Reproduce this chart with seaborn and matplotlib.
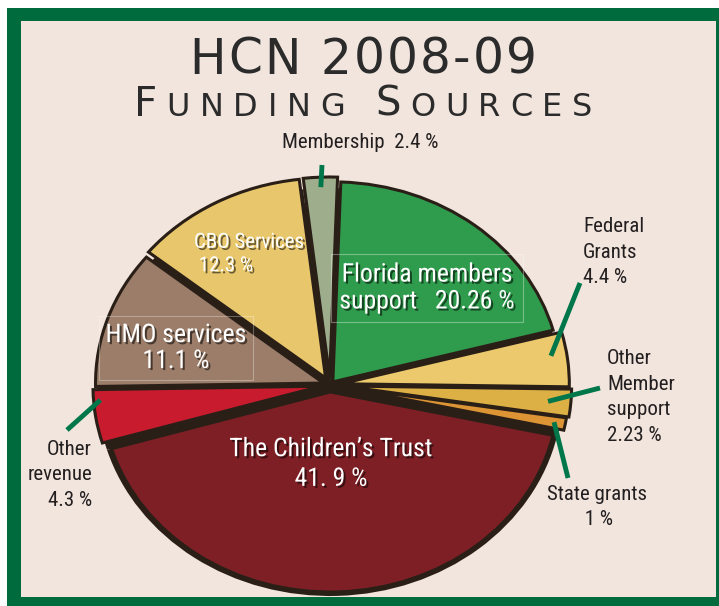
import matplotlib
matplotlib.use("Agg")
import matplotlib.pyplot as plt
import matplotlib.patheffects as pe
from matplotlib import font_manager
from matplotlib.font_manager import FontProperties
from matplotlib.patches import Rectangle
import numpy as np
import seaborn as sns

sns.set_theme(style="white")
plt.rcParams["font.family"] = ["DejaVu Sans"]

# slices in clockwise order starting at 12 o'clock
sources = ["Florida members support", "Federal Grants", "Other Member support", "State grants",
           "The Children's Trust", "Other revenue", "HMO services", "CBO Services", "Membership"]
shares = [20.26, 4.4, 2.23, 1.0, 41.9, 4.3, 11.1, 12.3, 2.4]
slice_colors = ["#2f9c4d", "#ebc96c", "#dcb044", "#dc9434", "#7e1f25",
                "#c91b2e", "#9b7d69", "#e8c66c", "#9eae8c"]
explode = [0.02, 0.05, 0.06, 0.05, 0.035, 0.04, 0.03, 0.04, 0.04]

title_line1 = "HCN 2008-09"
title_line2 = [("F", 29), ("UNDING", 23), (" ", 23), ("S", 29), ("OURCES", 23)]

W, H = 719, 606
GREEN = "#006b3d"
BEIGE = "#f1e5dd"
DARK = "#231f20"
EDGE = "#2a1f17"


def pick_narrow_font():
    # look for an installed condensed sans face, otherwise a narrow-ish regular one
    prefs = ["Liberation Sans Narrow", "Roboto Condensed", "Noto Sans", "Open Sans", "Lato", "Inter",
             "DejaVu Sans"]
    cands = [f for f in font_manager.fontManager.ttflist
             if f.stretch in ("condensed", "semi-condensed", "extra-condensed")
             and f.style == "normal" and f.weight in (400, "normal", "regular")
             and "Mono" not in f.name and "Serif" not in f.name]
    for p in prefs:
        for f in cands:
            if f.name.startswith(p):
                return f.fname, True
    if cands:
        return cands[0].fname, True
    return font_manager.findfont(FontProperties(family="Liberation Sans")), False


label_font, is_narrow = pick_narrow_font()
scale = 1.0 if is_narrow else 0.88


def lf(size):
    return FontProperties(fname=label_font, size=size * scale)


fig = plt.figure(figsize=(W / 100, H / 100), dpi=100)
fig.patch.set_facecolor("white")
fig.patches.append(Rectangle((7 / W, 0), 1, 1 - 8 / H, transform=fig.transFigure,
                             facecolor=GREEN, edgecolor="none", zorder=-3))
fig.patches.append(Rectangle((21 / W, 9 / H), (716 - 21) / W, (597 - 21) / H,
                             transform=fig.transFigure, facecolor=BEIGE, edgecolor="none", zorder=-2))

# pie axes: slightly squashed vertically to mimic the tilted 3D pie
ax = fig.add_axes([45 / W, 1 - 635 / H, 570 / W, 500 / H], zorder=1)
ax.patch.set_alpha(0)
start = 88
# dark body under the slices (shows through the gaps and at the hub)
ax.pie(shares, colors=[EDGE] * len(shares), startangle=start, counterclock=False,
       center=(0, -0.035), radius=1.02, wedgeprops=dict(linewidth=0))
ax.pie(shares, colors=[EDGE] * len(shares), startangle=start, counterclock=False,
       radius=0.9, wedgeprops=dict(linewidth=0))
wedges, _ = ax.pie(shares, explode=explode, colors=slice_colors, startangle=start,
                   counterclock=False, wedgeprops=dict(edgecolor=EDGE, linewidth=2.2))
ax.set_aspect("auto")
ax.set_xlim(-1.25, 1.25)
ax.set_ylim(-1.25, 1.25)
ax.axis("off")

# overlay in pixel coordinates for text and leader lines
ov = fig.add_axes([0, 0, 1, 1], zorder=3)
ov.set_xlim(0, W)
ov.set_ylim(H, 0)
ov.axis("off")
ov.patch.set_alpha(0)

shadow = [pe.withSimplePatchShadow(offset=(1.5, -1.5), shadow_rgbFace="black", alpha=0.55)]

# labels inside the pie
ov.text(427, 288, "Florida members\nsupport   20.26 %", color="white", fontproperties=lf(18.5),
        ha="center", va="center", linespacing=1.15, path_effects=shadow,
        bbox=dict(facecolor="none", edgecolor=(1, 1, 1, 0.35), linewidth=0.8, pad=6))
ov.text(176, 348, "HMO services\n11.1 %", color="white", fontproperties=lf(18.5), ha="center",
        va="center", linespacing=1.1, path_effects=shadow,
        bbox=dict(facecolor="none", edgecolor=(1, 1, 1, 0.3), linewidth=0.8, pad=5))
ov.text(194, 254, "CBO Services\n 12.3 %", color="white", fontproperties=lf(15), ha="left",
        va="center", linespacing=1.3, path_effects=shadow)
ov.text(331, 464, "The Children\u2019s Trust\n41. 9 %", color="white", fontproperties=lf(18.5),
        ha="center", va="center", linespacing=1.3, path_effects=shadow)

# labels outside the pie
ov.text(360, 143, "Membership  2.4 %", color=DARK, fontproperties=lf(15), ha="center", va="center")
ov.text(583, 252, "Federal\nGrants\n4.4 %", color=DARK, fontproperties=lf(15), ha="left",
        va="center", linespacing=1.45)
ov.text(607, 397, "Other\nMember\nsupport\n2.23 %", color=DARK, fontproperties=lf(15), ha="left",
        va="center", linespacing=1.45)
ov.text(597, 507, "State grants\n 1 %", color=DARK, fontproperties=lf(15), ha="center",
        va="center", linespacing=1.45)
ov.text(92, 475, "Other\nrevenue\n4.3 %", color=DARK, fontproperties=lf(15), ha="right",
        va="center", multialignment="right", linespacing=1.45)

# leader lines: slice index -> (label end point, position along slice, radius)
leaders = {8: ((322, 165), 0.5, 0.95), 1: ((580, 283), 0.6, 0.93), 2: ((600, 388), 0.5, 0.9),
           3: ((568, 478), 0.5, 0.95), 5: ((67, 430), 0.2, 0.97)}
to_px = ov.transData.inverted()
for idx, (end, frac, r) in leaders.items():
    w = wedges[idx]
    th = np.deg2rad(w.theta1 + frac * (w.theta2 - w.theta1))
    cx, cy = w.center
    p0 = to_px.transform(ax.transData.transform((cx + r * np.cos(th), cy + r * np.sin(th))))
    ov.plot([p0[0], end[0]], [p0[1], end[1]], color="#00774a", linewidth=3.5,
            solid_capstyle="butt")


def tracked_title(pieces, baseline, width, center=363):
    renderer = fig.canvas.get_renderer()
    chars = []
    for txt, size in pieces:
        for ch in txt:
            t = ov.text(0, baseline, ch, fontsize=size, ha="left", va="baseline",
                        color="#2b2b2b", family="DejaVu Sans")
            w = size * 100 / 72 * 0.32 if ch == " " else t.get_window_extent(renderer).width
            chars.append((t, w))
    gap = (width - sum(w for _, w in chars)) / (len(chars) - 1)
    x = center - width / 2
    for t, w in chars:
        t.set_x(x)
        x += w + gap


tracked_title([(title_line1, 35)], 74, 347)
tracked_title(title_line2, 116, 459)

fig.savefig("out.png", dpi=100, facecolor=fig.get_facecolor())
